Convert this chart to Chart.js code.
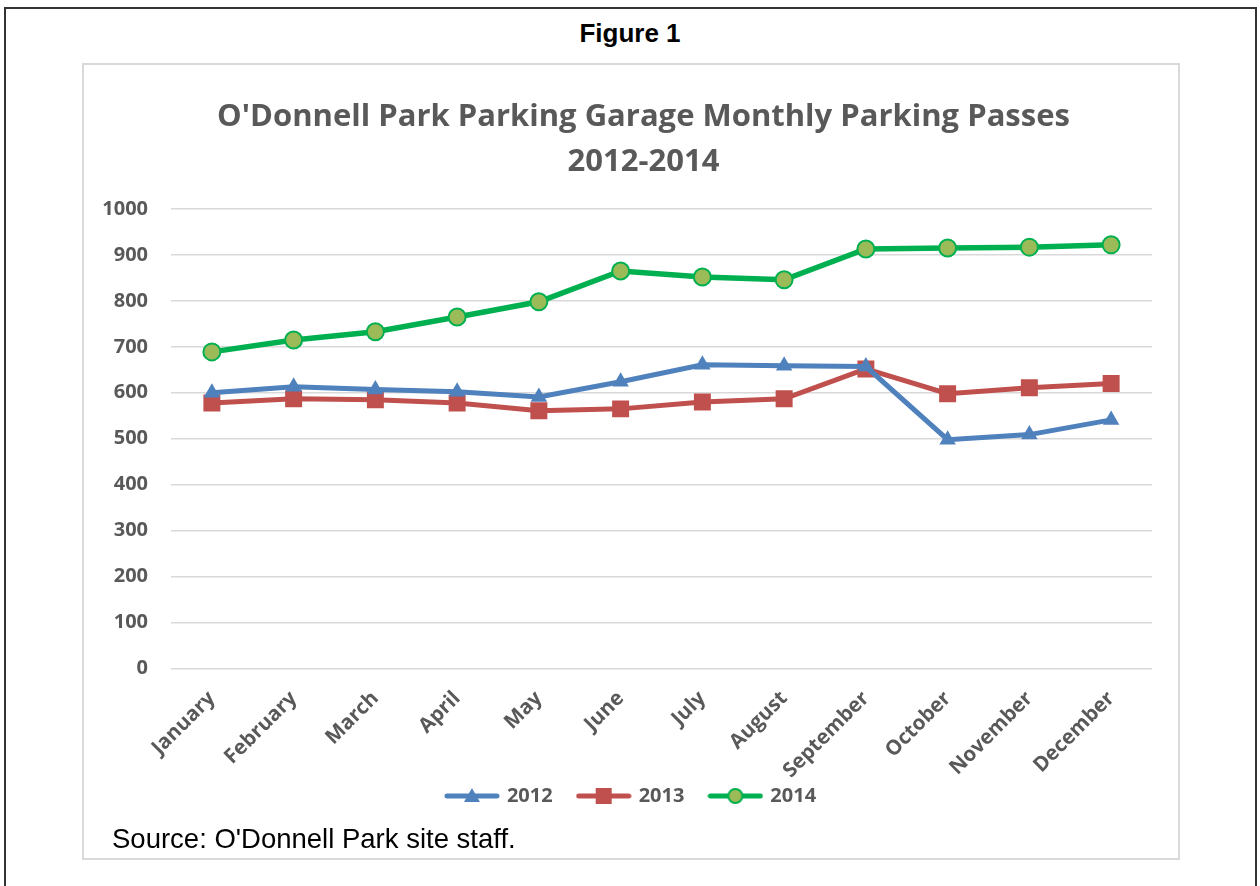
<!DOCTYPE html>
<html>
<head>
<meta charset="utf-8">
<script src="https://cdn.jsdelivr.net/npm/chart.js@4.4.1/dist/chart.umd.min.js"></script>
<style>
  body { margin: 0; background: #fff; width: 1260px; height: 886px; overflow: hidden; position: relative; }
  #frame { position: absolute; left: 4px; top: 7px; width: 1249px; height: 900px; border: 2px solid #333; }
  #fig { position: absolute; left: 0; top: 33px; width: 1260px; text-align: center; font: bold 26px "Liberation Sans", Arial, sans-serif; line-height: 0; color: #000; }
  #box { position: absolute; left: 82px; top: 63px; width: 1094px; height: 793px; border: 2px solid #d9d9d9; }
  #grafica { position: absolute; left: 0; top: 0; }
  #source { position: absolute; left: 28px; top: 758px; line-height: 0; font: 27.5px "Liberation Sans", Arial, sans-serif; color: #000; }
</style>
</head>
<body>
<div id="frame"></div>
<div id="fig">Figure 1</div>
<div id="box">
  <canvas id="grafica" width="1094" height="793"></canvas>
  <div id="source">Source: O'Donnell Park site staff.</div>
</div>
<script>
// Datos del grafico
const meses = ['January', 'February', 'March', 'April', 'May', 'June', 'July', 'August', 'September', 'October', 'November', 'December'];
const pases2012 = [600, 613, 607, 602, 591, 624, 661, 659, 657, 498, 509, 541];
const pases2013 = [578, 587, 585, 578, 561, 565, 580, 587, 652, 598, 611, 620];
const pases2014 = [689, 715, 733, 765, 798, 865, 852, 846, 913, 915, 917, 922];
const titulo = ["O'Donnell Park Parking Garage Monthly Parking Passes", '2012-2014'];

const gris = '#595959';
const fuente = '"Open Sans", sans-serif';

// Iconos de la leyenda: linea con marcador
function iconoLeyenda(color, estilo, relleno, borde) {
  const c = document.createElement('canvas');
  c.width = 56; c.height = 22;
  const ctx = c.getContext('2d');
  ctx.strokeStyle = color;
  ctx.lineWidth = 5;
  ctx.lineCap = 'round';
  ctx.beginPath();
  ctx.moveTo(3, 11); ctx.lineTo(53, 11);
  ctx.stroke();
  ctx.fillStyle = relleno;
  ctx.beginPath();
  if (estilo === 'triangle') {
    ctx.moveTo(28, 3); ctx.lineTo(36, 17); ctx.lineTo(20, 17); ctx.closePath();
    ctx.fill();
  } else if (estilo === 'rect') {
    ctx.fillRect(20, 3, 16, 16);
  } else {
    ctx.arc(28, 11, 7, 0, Math.PI * 2);
    ctx.fill();
    ctx.lineWidth = 2;
    ctx.strokeStyle = borde;
    ctx.stroke();
  }
  return c;
}

const iconos = [
  iconoLeyenda('#4f81bd', 'triangle', '#4f81bd'),
  iconoLeyenda('#c0504d', 'rect', '#c0504d'),
  iconoLeyenda('#00b050', 'circle', '#9bbb59', '#00b050')
];

// centra titulo y leyenda como en el original, y deja ver las etiquetas del eje x
const ajustarBloques = {
  id: 'ajustarBloques',
  afterLayout(chart) {
    chart.titleBlock.left += 17;
    chart.titleBlock.right += 17;
    chart.legend.left += 5;
    chart.legend.right += 5;
    chart.scales.x.bottom += 30;
  }
};

const ctx = document.getElementById('grafica').getContext('2d');
const myChart = new Chart(ctx, {
  type: 'line',
  data: {
    labels: meses,
    datasets: [
      {
        label: '2012',
        data: pases2012,
        borderColor: '#4f81bd',
        backgroundColor: '#4f81bd',
        borderWidth: 5,
        pointStyle: 'triangle',
        pointRadius: 9.5,
        pointBorderWidth: 0,
        tension: 0
      },
      {
        label: '2013',
        data: pases2013,
        borderColor: '#c0504d',
        backgroundColor: '#c0504d',
        borderWidth: 5,
        pointStyle: 'rect',
        pointRadius: 12,
        pointBorderWidth: 0,
        tension: 0
      },
      {
        label: '2014',
        data: pases2014,
        borderColor: '#00b050',
        backgroundColor: '#9bbb59',
        pointBackgroundColor: '#9bbb59',
        pointBorderColor: '#00b050',
        borderWidth: 5.5,
        pointStyle: 'circle',
        pointRadius: 8.5,
        pointBorderWidth: 2,
        tension: 0
      }
    ]
  },
  plugins: [ajustarBloques],
  options: {
    responsive: false,
    animation: false,
    layout: { padding: { left: 17, right: 26, top: 30, bottom: 42 } },
    plugins: {
      title: {
        display: true,
        text: titulo,
        color: gris,
        font: { family: fuente, size: 31, weight: 'bold', lineHeight: '45px' },
        padding: { top: 0, bottom: 24 }
      },
      legend: {
        position: 'bottom',
        labels: {
          usePointStyle: true,
          pointStyleWidth: 50,
          color: gris,
          font: { family: fuente, size: 20, weight: 'bold' },
          padding: 26,
          generateLabels: chart => {
            const items = Chart.defaults.plugins.legend.labels.generateLabels(chart);
            items.forEach((it, i) => { it.pointStyle = iconos[i]; });
            return items;
          }
        }
      },
      tooltip: { enabled: false }
    },
    scales: {
      x: {
        offset: true,
        grid: { display: false },
        border: { display: false },
        afterFit: scale => { scale.height -= 33; },
        ticks: {
          color: gris,
          font: { family: fuente, size: 20.5, weight: 'bold' },
          minRotation: 45,
          maxRotation: 45,
          padding: 10,
          autoSkip: false
        }
      },
      y: {
        min: 0,
        max: 1000,
        grid: { color: '#d9d9d9', lineWidth: 1.5, drawTicks: false },
        border: { display: false },
        afterFit: scale => { scale.width = 70; },
        ticks: {
          stepSize: 100,
          color: gris,
          font: { family: fuente, size: 20, weight: 'bold' },
          padding: 23,
          callback: v => String(v)
        }
      }
    }
  }
});
</script>
</body>
</html>
